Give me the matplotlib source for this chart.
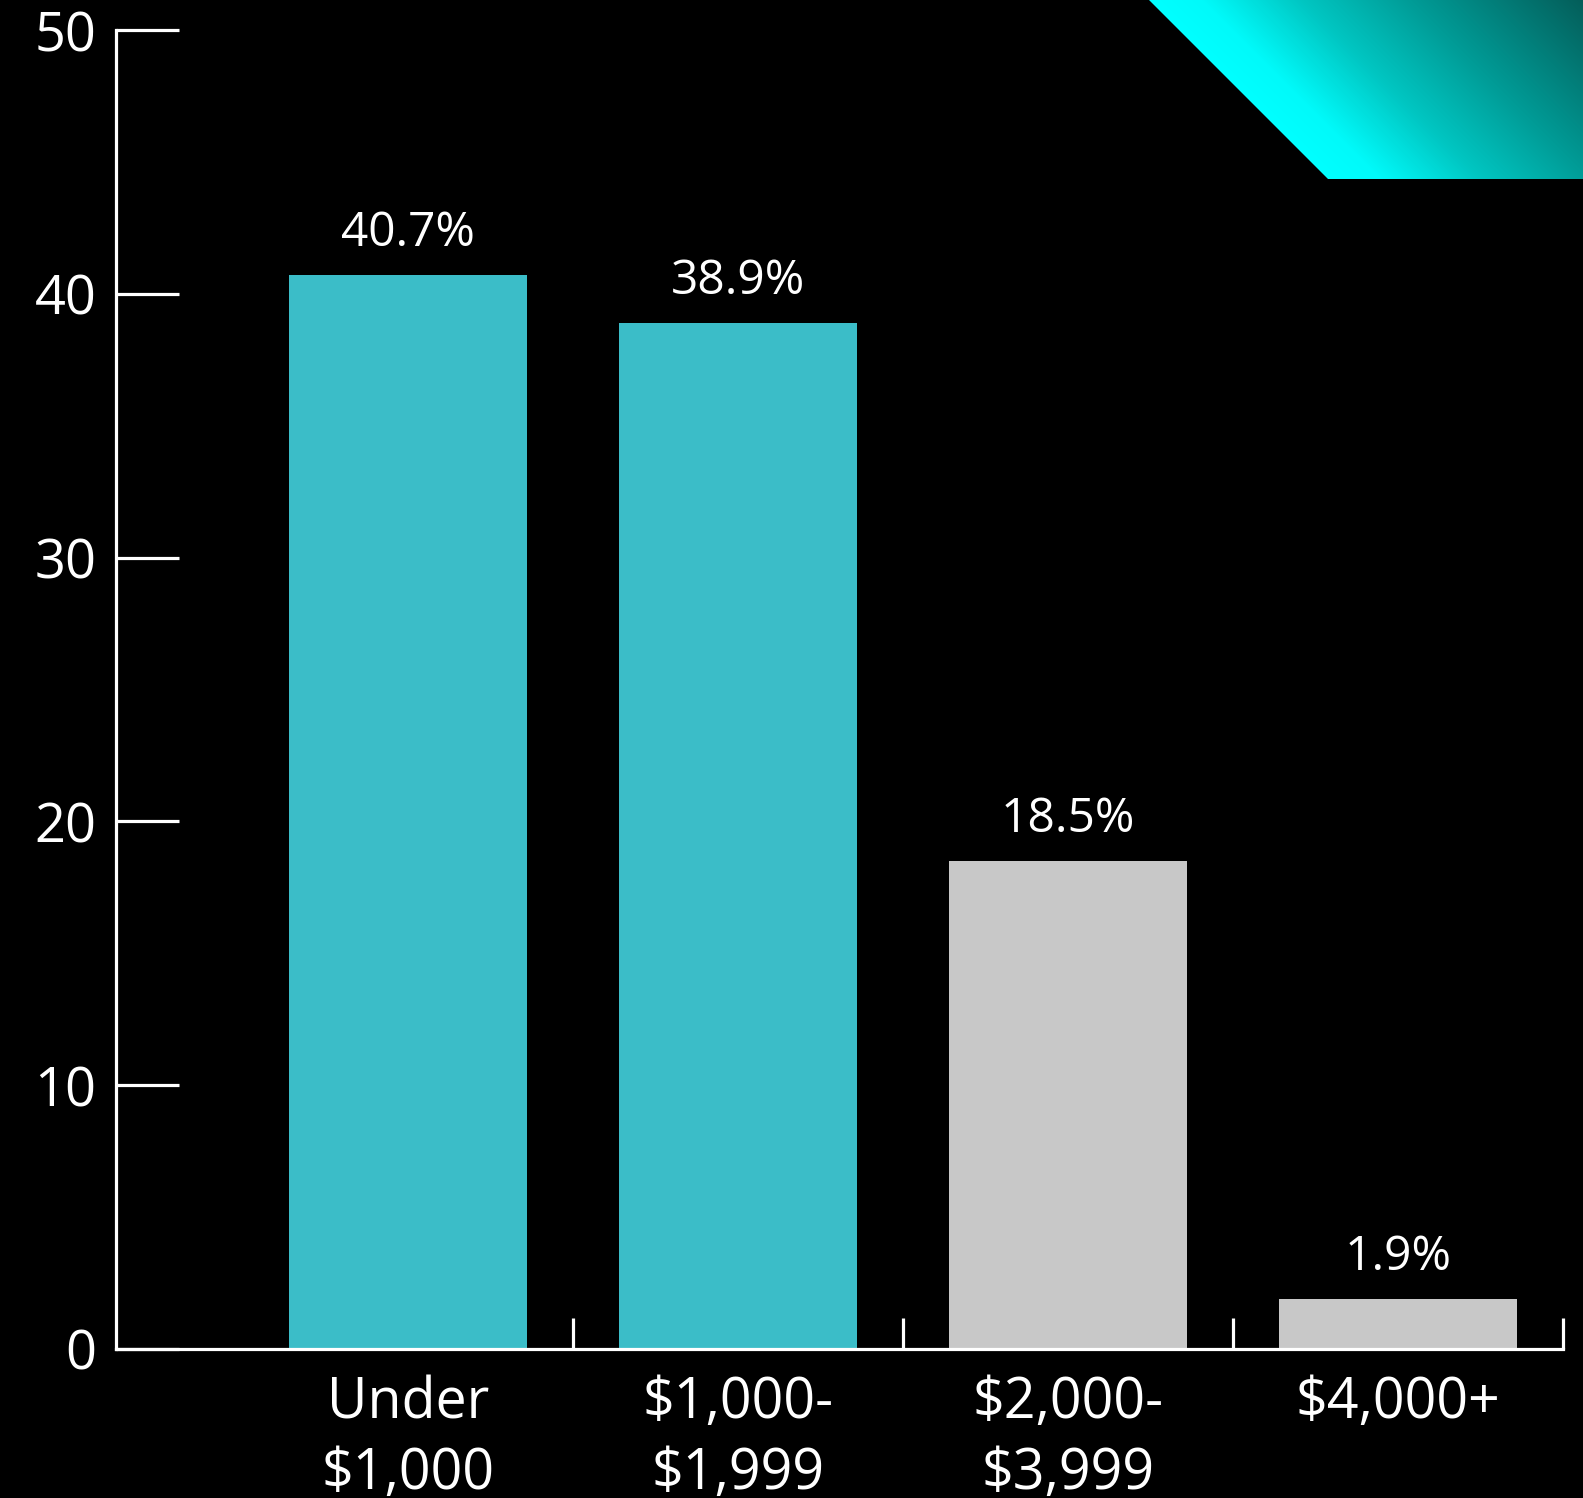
import numpy as np
import matplotlib
matplotlib.use("Agg")
import matplotlib.pyplot as plt
from matplotlib.colors import LinearSegmentedColormap
from matplotlib.patches import Polygon

# Data
categories = ["Under\n$1,000", "$1,000-\n$1,999", "$2,000-\n$3,999", "$4,000+"]
shares = [40.7, 38.9, 18.5, 1.9]
value_labels = ["40.7%", "38.9%", "18.5%", "1.9%"]
bar_colors = ["#3BBDC8", "#3BBDC8", "#C8C8C8", "#C8C8C8"]
y_ticks = [0, 10, 20, 30, 40, 50]

W, H = 1583, 1498
plt.rcParams["font.family"] = ["Open Sans", "DejaVu Sans"]

fig = plt.figure(figsize=(W / 100, H / 100), dpi=100, facecolor="black")

# Decorative gradient corner shape (figure pixel coordinates)
bg = fig.add_axes([0, 0, 1, 1], zorder=0)
bg.set_xlim(0, W)
bg.set_ylim(H, 0)
bg.axis("off")
bg.set_facecolor("black")
xx, yy = np.meshgrid(np.arange(W), np.arange(0, 200))
t = np.clip((xx - yy - 1149) / 434.0, 0, 1)
cmap = LinearSegmentedColormap.from_list(
    "corner",
    [(0.0, "#00FFFF"), (0.12, "#00FAFA"), (0.35, "#00C6C2"),
     (0.6, "#009C97"), (1.0, "#045E5A")])
im = bg.imshow(t, cmap=cmap, extent=(0, W, 200, 0), vmin=0, vmax=1,
               interpolation="bilinear", aspect="auto")
poly = Polygon([(1149, 0), (W, 0), (W, 179), (1328, 179)], closed=True,
               transform=bg.transData, facecolor="none", edgecolor="none")
bg.add_patch(poly)
im.set_clip_path(poly)

# Main chart
ax = fig.add_axes([116 / W, 1 - 1349 / H, (1563 - 116) / W, (1349 - 30) / H], zorder=1)
ax.patch.set_alpha(0)
x = np.arange(len(categories))
ax.bar(x, shares, width=0.72, color=bar_colors, zorder=2)

for xi, v, lab in zip(x, shares, value_labels):
    ax.annotate(lab, (xi, v), xytext=(0, 13), textcoords="offset points",
                ha="center", va="bottom", color="white", fontsize=34.5)

ax.set_xlim(-0.885, 3.5)
ax.set_ylim(0, 50)

for s in ["top", "right"]:
    ax.spines[s].set_visible(False)
for s in ["left", "bottom"]:
    ax.spines[s].set_color("white")
    ax.spines[s].set_linewidth(2.3)
    ax.spines[s].set_zorder(3)

ax.set_yticks(y_ticks)
ax.set_yticklabels([str(v) for v in y_ticks])
ax.tick_params(axis="y", direction="in", length=45, width=2.3, color="white",
               labelcolor="white", labelsize=39, pad=14)

# Boundary ticks between categories, labels at category centres
ax.set_xticks([0.5, 1.5, 2.5, 3.5])
ax.set_xticklabels([])
ax.tick_params(axis="x", which="major", direction="in", length=22, width=2.3,
               color="white")
ax.set_xticks(x, minor=True)
ax.set_xticklabels(categories, minor=True, linespacing=1.32)
ax.tick_params(axis="x", which="minor", length=0, labelcolor="white",
               labelsize=40, pad=19)

fig.savefig("out.png", dpi=100, facecolor="black")
